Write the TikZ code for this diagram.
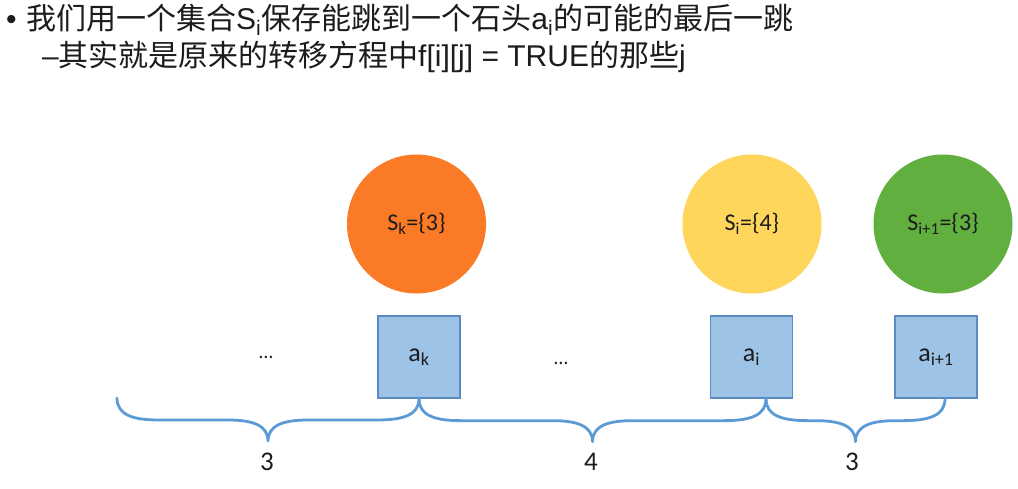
\documentclass[tikz,border=0pt]{standalone}
\usepackage{fontspec}
\setmainfont{Liberation Sans}
\newfontfamily\cjk{Noto Sans CJK SC}
\newfontfamily\calfont{Carlito}
\usetikzlibrary{calc}
\newcommand\zh[1]{{\cjk #1}}
\definecolor{orangec}{HTML}{FA7A25}
\definecolor{yellowc}{HTML}{FFD65C}
\definecolor{greenc}{HTML}{60AF3F}
\definecolor{boxfill}{HTML}{9DC3E6}
\definecolor{boxline}{HTML}{5A8AC0}
\definecolor{bracec}{HTML}{5B9BD5}
\definecolor{txt}{HTML}{1C1C1C}
\newcommand\officebrace[2]{%
  \draw[bracestyle] let \p1=(#1), \p2=(#2), \n1={(\x1+\x2)/2} in
    (\p1) .. controls (\x1,\y1-17pt) and (\x1+16pt,\y1-22pt) .. (\x1+42pt,\y1-22pt)
    -- (\n1-40pt,\y1-22pt) .. controls (\n1-16pt,\y1-22pt) and (\n1,\y1-27pt) .. (\n1,\y1-43pt)
    .. controls (\n1,\y1-27pt) and (\n1+16pt,\y1-22pt) .. (\n1+40pt,\y1-22pt)
    -- (\x2-42pt,\y1-22pt) .. controls (\x2-16pt,\y1-22pt) and (\x2,\y1-17pt) .. (\p2);}
\begin{document}
\begin{tikzpicture}[x=1pt,y=-1pt,
  head/.style={anchor=base west,inner sep=0,text=txt},
  setcircle/.style={circle,minimum size=139pt,inner sep=0,font=\calfont\fontsize{24}{28}\selectfont,text=txt},
  stone/.style={draw=boxline,line width=1.3pt,fill=boxfill,minimum width=82pt,minimum height=82pt,inner sep=0,font=\calfont\fontsize{26}{30}\selectfont,text=txt},
  dots/.style={font=\calfont\fontsize{20}{24}\selectfont,text=txt,inner sep=0},
  count/.style={font=\calfont\fontsize{27}{32}\selectfont,text=txt,inner sep=0},
  bracestyle/.style={draw=bracec,line width=2.8pt,line cap=round,line join=round}]
\useasboundingbox[fill=white] (0,0) rectangle (1018,488);

% heading
\node[head] (b1) at (6,29) {\fontsize{30}{36}\selectfont •};
\node[head] (l1) at (26,29) {\fontsize{30}{36}\selectfont\zh{我们用一个集合}S\textsubscript{i}\zh{保存能跳到一个石头}a\textsubscript{i}\zh{的可能的最后一跳}};
\node[head] (b2) at (42,66) {\fontsize{30}{36}\selectfont –};
\node[head] (l2) at (58,66) {\fontsize{30}{36}\selectfont\zh{其实就是原来的转移方程中}f[i][j] = TRUE\zh{的那些}j};

% sets
\node[setcircle,fill=orangec] (sk) at (416.5,224) {S\textsubscript{k}=\{3\}};
\node[setcircle,fill=yellowc] (si) at (752,224) {S\textsubscript{i}=\{4\}};
\node[setcircle,fill=greenc] (sn) at (943,224) {S\textsubscript{i+1}=\{3\}};

% stones
\node[stone] (ak) at (419,357) {a\textsubscript{k}};
\node[stone] (ai) at (751.5,357) {a\textsubscript{i}};
\node[stone] (an) at (936,357) {a\textsubscript{i+1}};
\node[dots] (d1) at (266,357) {…};
\node[dots] (d2) at (561,363) {…};

% brace end points
\coordinate (e0) at (117,398);
\coordinate (e1) at (ak.south);
\coordinate (e2) at ($(ai.south)+(14.5,0)$);
\coordinate (e3) at ($(an.south)+(9,0)$);
\officebrace{e0}{e1}
\officebrace{e1}{e2}
\officebrace{e2}{e3}

% jump lengths
\node[count] (c1) at (267,462) {3};
\node[count] (c2) at (591,462) {4};
\node[count] (c3) at (852,462) {3};
\end{tikzpicture}
\end{document}
